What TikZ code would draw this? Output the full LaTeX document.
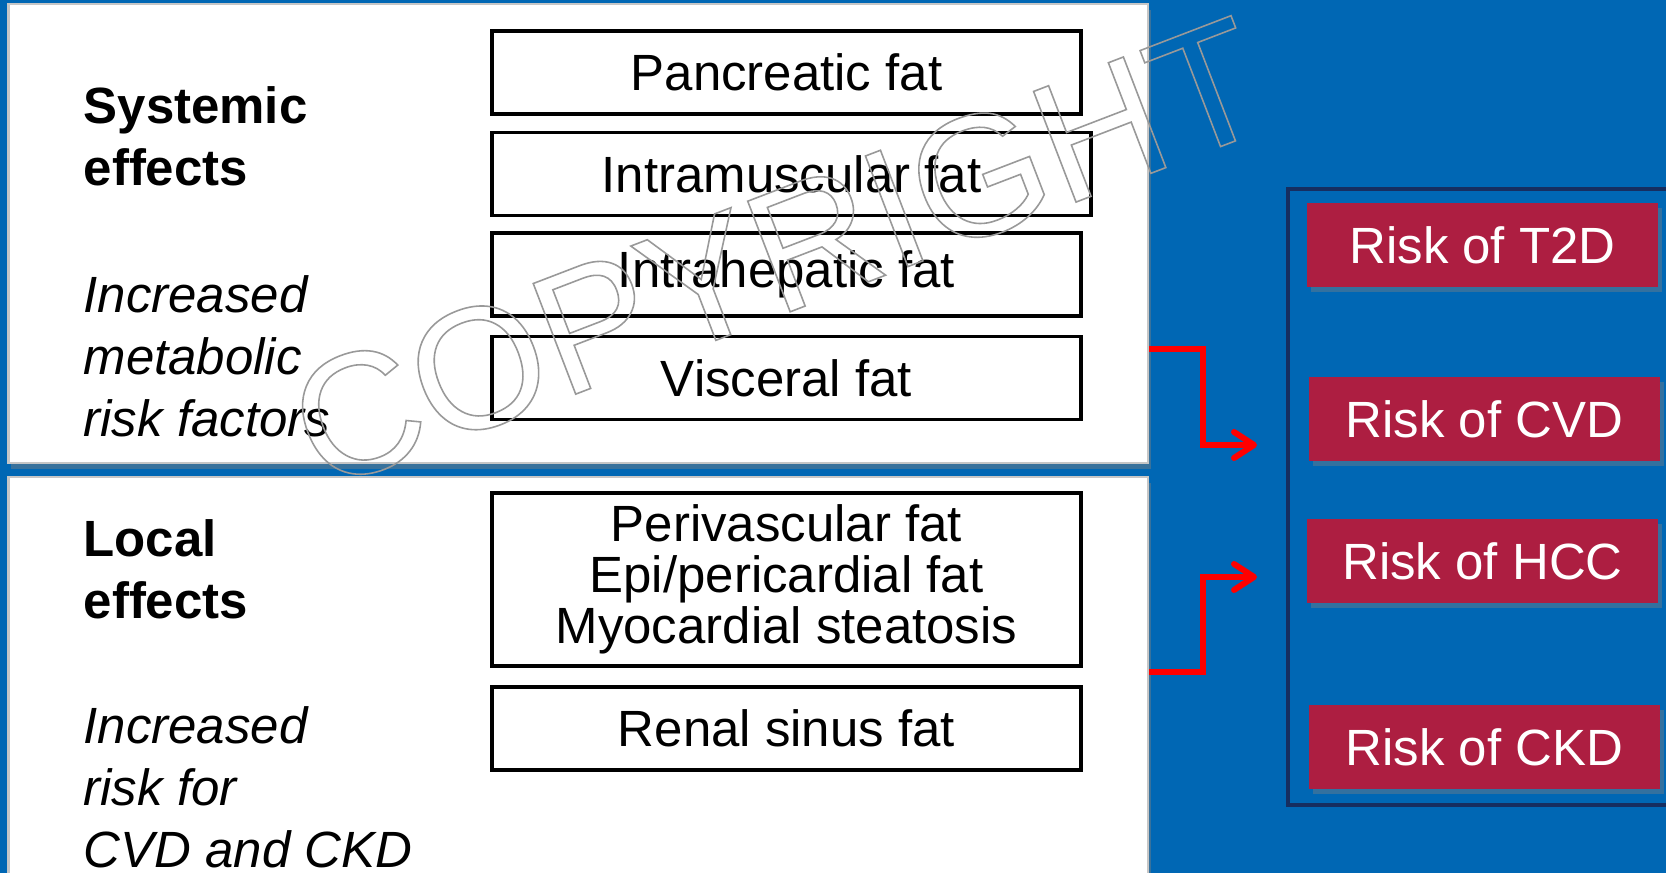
\documentclass[tikz,border=0pt]{standalone}
\usepackage{fontspec}
\setmainfont{Liberation Sans}
\usetikzlibrary{arrows.meta,shadows}
\definecolor{slideblue}{RGB}{0,103,180}
\definecolor{framenavy}{RGB}{22,46,96}
\definecolor{riskred}{RGB}{173,30,65}
\definecolor{linkred}{RGB}{255,0,0}
\newcommand{\outlined}[1]{\special{pdf:literal direct 1 Tr 0.45 w 0.6 G}#1\special{pdf:literal direct 0 Tr 0 G}}

\begin{document}
\begin{tikzpicture}[
        panel/.style={rectangle, draw=gray!45, line width=0.6pt, fill=white, inner sep=0pt,
            drop shadow={shadow xshift=0.03cm, shadow yshift=-0.06cm, opacity=0.45}},
        fatbox/.style={rectangle, draw=black, line width=1.1pt, fill=white, minimum width=5.89cm,
            minimum height=0.83cm, inner sep=0pt, align=center, font=\fontsize{14.5}{14.5}\selectfont},
        riskbox/.style={rectangle, fill=riskred, text=white, minimum width=3.51cm, minimum height=0.84cm,
            inner sep=0pt, font=\fontsize{14.5}{17}\selectfont,
            drop shadow={shadow xshift=0.04cm, shadow yshift=-0.05cm, opacity=0.4}},
        sidebold/.style={anchor=west, align=left, inner sep=0pt, font=\fontsize{14.5}{17.6}\selectfont\bfseries},
        sideital/.style={anchor=west, align=left, inner sep=0pt, font=\fontsize{14.5}{17.6}\selectfont\itshape},
        link/.style={draw=linkred, line width=1.7pt, -{Straight Barb[length=2mm, width=2.6mm, round]}}
    ]

    \useasboundingbox (0,0) rectangle (16.66,8.73);
    \fill[slideblue] (0,0) rectangle (16.66,8.73);

    % ---- PANELS ----
    \node[panel, minimum width=11.395cm, minimum height=4.59cm] (syspanel) at (5.7825,6.395) {};
    \node[panel, minimum width=11.395cm, minimum height=4.06cm] (locpanel) at (5.7825,1.93) {};
    \draw[framenavy, line width=1pt] (12.88,6.84) rectangle (16.75,0.68);

    % ---- LEFT TEXT ----
    \node[sidebold] (systitle) at (0.83,7.37) {Systemic\\effects};
    \node[sideital] (sysnote) at (0.83,5.17) {Increased\\metabolic\\risk factors};
    \node[sidebold] (loctitle) at (0.83,3.04) {Local\\effects};
    \node[sideital] (locnote) at (0.83,0.86) {Increased\\risk for\\CVD and CKD};

    % ---- FAT DEPOTS ----
    \node[fatbox] (pancreas) at (7.865,8.005) {Pancreatic fat};
    \node[fatbox, minimum width=5.99cm] (muscle) at (7.915,6.99) {Intramuscular fat};
    \node[fatbox] (liver) at (7.865,5.985) {Intrahepatic fat};
    \node[fatbox] (visceral) at (7.865,4.95) {Visceral fat};
    \node[fatbox, minimum height=1.73cm] (heart) at (7.865,2.935) {Perivascular fat\\Epi/pericardial fat\\Myocardial steatosis};
    \node[fatbox] (renal) at (7.865,1.445) {Renal sinus fat};

    % ---- RISKS ----
    \node[riskbox] (t2d) at (14.825,6.28) {Risk of T2D};
    \node[riskbox] (cvd) at (14.845,4.54) {Risk of CVD};
    \node[riskbox] (hcc) at (14.825,3.12) {Risk of HCC};
    \node[riskbox] (ckd) at (14.845,1.255) {Risk of CKD};

    % ---- CONNECTORS ----
    \coordinate (sysin) at (12.57,4.28);
    \coordinate (locin) at (12.57,2.96);
    \draw[link] (syspanel.east |- 0,5.24) -| ([xshift=-0.54cm]sysin) -- (sysin);
    \draw[link] (locpanel.east |- 0,2.01) -| ([xshift=-0.54cm]locin) -- (locin);

    % ---- WATERMARK ----
    \node[rotate=21, inner sep=0pt, font=\fontsize{49}{49}\selectfont] (wmark) at (7.78,6.2)
        {\outlined{COPYRIGHT}};

\end{tikzpicture}
\end{document}
